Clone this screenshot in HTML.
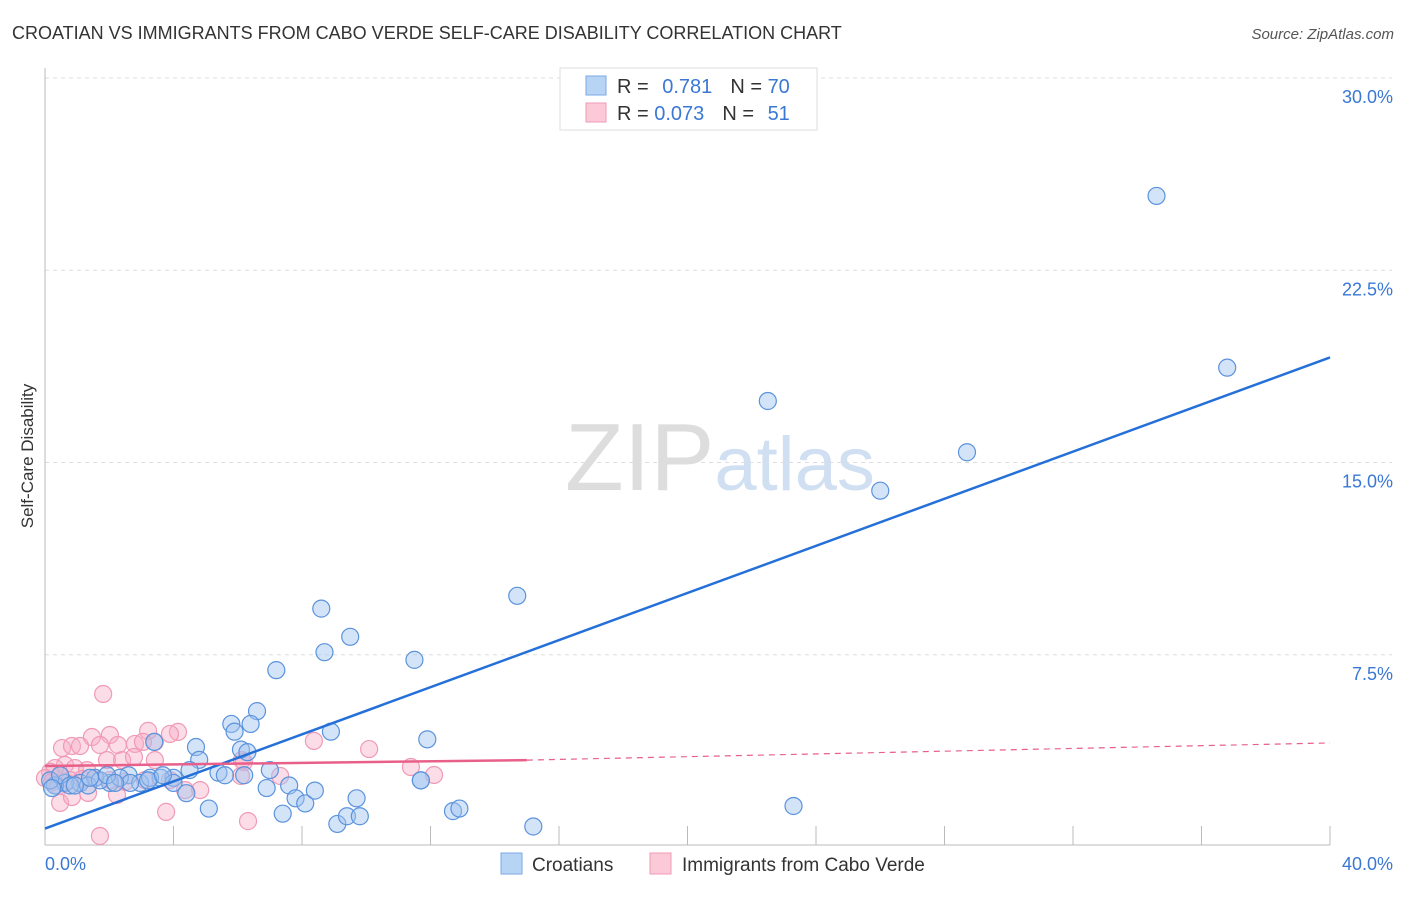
<!DOCTYPE html>
<html><head><meta charset="utf-8">
<style>
body{margin:0;background:#fff;font-family:"Liberation Sans",sans-serif;}
svg text{font-family:"Liberation Sans",sans-serif;}
</style></head>
<body>
<svg id="chart" width="1406" height="892" xmlns="http://www.w3.org/2000/svg">
<text x="12" y="39" font-size="18" fill="#333">CROATIAN VS IMMIGRANTS FROM CABO VERDE SELF-CARE DISABILITY CORRELATION CHART</text>
<text x="1394" y="39" font-size="15" fill="#555" text-anchor="end" font-style="italic">Source: ZipAtlas.com</text>
<text transform="translate(33,456) rotate(-90)" font-size="17" fill="#333" text-anchor="middle">Self-Care Disability</text>
<text x="720" y="490" font-size="96" text-anchor="middle" fill="#ddd" font-family="Liberation Serif"><tspan fill="#ddd">ZIP</tspan><tspan fill="#d0dff2" font-family="Liberation Sans" font-size="76">atlas</tspan></text>
<g id="grid"></g>
<g id="axes"></g>
<g id="points"></g>
<g id="trends"></g>
<g>
<rect x="560" y="68" width="257" height="62" fill="#fff" stroke="#ddd"/>
<rect x="586" y="76" width="20" height="19" fill="#b8d4f5" stroke="#7aaae6"/>
<rect x="586" y="103" width="20" height="19" fill="#fbc9d8" stroke="#f09ab6"/>
<text x="617" y="93" font-size="20" fill="#333">R = <tspan fill="#3a78d4" dx="8">0.781</tspan><tspan dx="18" fill="#333">N = </tspan><tspan fill="#3a78d4">70</tspan></text>
<text x="617" y="120" font-size="20" fill="#333">R = <tspan fill="#3a78d4">0.073</tspan><tspan dx="18" fill="#333">N = </tspan><tspan fill="#3a78d4" dx="8">51</tspan></text>
</g>
<g>
<rect x="501" y="853" width="21" height="21" fill="#b8d4f5" stroke="#7aaae6"/>
<text x="532" y="871" font-size="19" fill="#333">Croatians</text>
<rect x="650" y="853" width="21" height="21" fill="#fbc9d8" stroke="#f09ab6"/>
<text x="682" y="871" font-size="19" fill="#333">Immigrants from Cabo Verde</text>
</g>
</svg>
<script>
const yTicks=[7.5,15,22.5,30];
const yTickLabels=["7.5%","15.0%","22.5%","30.0%"];
const xTickLabels=["0.0%","40.0%"];
const blueX=[34.6,36.8,22.5,28.7,26.0,14.7,8.6,9.5,8.7,11.5,7.2,6.6,5.8,6.4,5.9,8.9,11.9,3.4,4.7,6.1,6.3,4.8,4.0,5.4,4.5,7.0,5.6,2.6,3.6,7.6,6.9,6.2,4.0,4.4,7.8,8.1,8.4,9.7,5.1,7.4,9.1,9.4,9.8,12.7,12.9,15.2,23.3,11.7,11.7,2.96,2.02,2.33,1.56,1.09,0.62,0.31,0.16,0.47,0.78,1.34,1.71,3.27,2.65,1.93,3.21,3.67,1.40,0.93,0.22,2.18];
const blueY=[25.4,18.7,17.4,15.4,13.9,9.8,9.3,8.2,7.6,7.3,6.9,5.3,4.8,4.8,4.5,4.5,4.2,4.1,3.9,3.8,3.7,3.4,2.7,2.9,3.0,3.0,2.8,2.8,2.7,2.4,2.3,2.8,2.5,2.1,1.9,1.7,2.2,1.9,1.5,1.3,0.9,1.2,1.2,1.4,1.5,0.8,1.6,2.6,2.6,2.5,2.5,2.7,2.7,2.5,2.5,2.4,2.6,2.8,2.4,2.4,2.6,2.7,2.5,2.8,2.6,2.8,2.7,2.4,2.3,2.5];
const pinkX=[1.81,1.46,2.02,3.42,3.21,4.14,3.89,0.53,0.84,1.09,1.71,2.27,2.80,3.05,1.93,2.40,2.77,3.42,0.62,0.93,1.31,0.31,0.16,0.47,0,0.22,0.40,0.78,1.15,1.56,2.02,2.49,3.11,3.89,4.36,2.24,0.47,0.84,1.34,6.13,6.19,7.32,8.37,10.09,11.39,12.11,6.10,3.77,6.32,1.71,4.83];
const pinkY=[5.97,4.29,4.37,4.10,4.53,4.49,4.41,3.86,3.94,3.94,3.98,3.98,4.02,4.10,3.39,3.39,3.51,3.39,3.20,3.08,3.00,3.08,2.93,2.81,2.69,2.54,2.38,2.61,2.65,2.69,2.61,2.54,2.61,2.61,2.22,2.03,1.72,1.95,2.11,3.39,3.32,2.77,4.14,3.82,3.12,2.81,2.77,1.37,1.01,0.43,2.22];
const blueTrend=[0,0.72,40,19.1];
const pinkTrendSolid=[0,3.16,15,3.39];
const pinkTrendDash=[15,3.39,40,4.06];
const X0=45,X1=1330,Y0=847,Y30=78;
const xs=v=>X0+v*(X1-X0)/40;
const ys=v=>Y0-v*(Y0-Y30)/30;
const NS="http://www.w3.org/2000/svg";
function mk(tag,attrs,parent){const e=document.createElementNS(NS,tag);for(const k in attrs)e.setAttribute(k,attrs[k]);parent.appendChild(e);return e;}
const grid=document.getElementById('grid'),axes=document.getElementById('axes'),pts=document.getElementById('points'),tr=document.getElementById('trends'),svg=document.getElementById('chart');
yTicks.forEach((t,i)=>{
 const l=mk('line',{x1:X0,x2:1392,y1:ys(t),y2:ys(t),stroke:'#ddd','stroke-dasharray':'4,4'},grid);
 
 
 const tx=mk('text',{x:1393,y:ys(t)+25,'font-size':18,fill:'#3a78d4','text-anchor':'end'},axes);
 tx.textContent=yTickLabels[i];
 
 
});
const xa=mk('line',{x1:X0,x2:X1,y1:845,y2:845,stroke:'#bbb'},axes);


const ya=mk('line',{x1:X0,x2:X0,y1:68,y2:845,stroke:'#bbb'},axes);


for(let i=1;i<=10;i++){
 const t=mk('line',{x1:xs(i*4),x2:xs(i*4),y1:826,y2:845,stroke:'#bbb'},axes);
 
 
}
[[0,'start',45],[40,'end',1393]].forEach((d,i)=>{
 const t=mk('text',{x:d[2],y:870,'font-size':18,fill:'#3a78d4','text-anchor':d[1]},axes);
 t.textContent=xTickLabels[i];
 
 
});
pinkX.forEach((x,i)=>{
 const c=mk('circle',{cx:xs(x),cy:ys(pinkY[i]),r:8.5,fill:'rgba(248,170,195,0.4)',stroke:'#f09ab6','stroke-width':1.2},pts);
 
 
});
blueX.forEach((x,i)=>{
 const c=mk('circle',{cx:xs(x),cy:ys(blueY[i]),r:8.5,fill:'rgba(160,195,240,0.45)',stroke:'#5b93dc','stroke-width':1.2},pts);
 
 
});
const bl=mk('line',{x1:xs(blueTrend[0]),y1:ys(blueTrend[1]),x2:xs(blueTrend[2]),y2:ys(blueTrend[3]),stroke:'#2470d8','stroke-width':2.5},tr);


const pl=mk('line',{x1:xs(pinkTrendSolid[0]),y1:ys(pinkTrendSolid[1]),x2:xs(pinkTrendSolid[2]),y2:ys(pinkTrendSolid[3]),stroke:'#e8608a','stroke-width':2.5},tr);


const pd=mk('line',{x1:xs(pinkTrendDash[0]),y1:ys(pinkTrendDash[1]),x2:xs(pinkTrendDash[2]),y2:ys(pinkTrendDash[3]),stroke:'#e8608a','stroke-width':1.2,'stroke-dasharray':'6,5'},tr);


</script>
</body></html>
